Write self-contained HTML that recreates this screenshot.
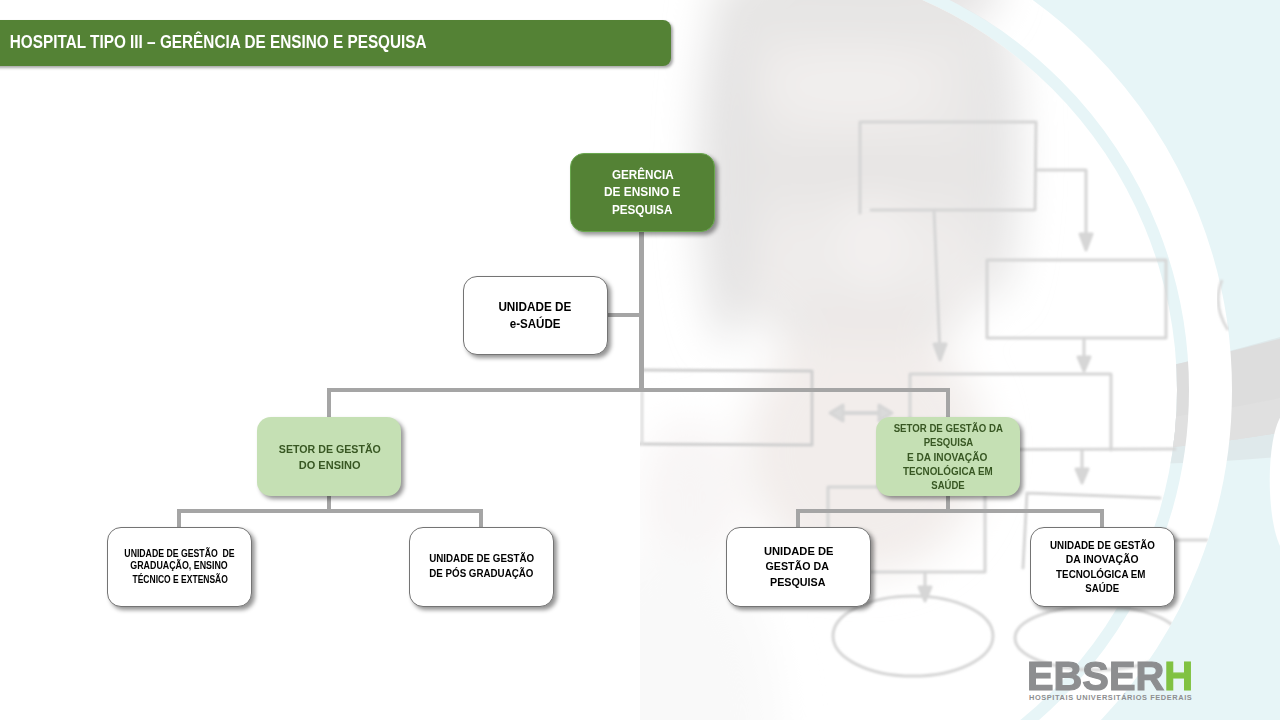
<!DOCTYPE html>
<html><head><meta charset="utf-8"><style>
html,body{margin:0;padding:0;}
body{width:1280px;height:720px;position:relative;overflow:hidden;background:#fff;font-family:"Liberation Sans",sans-serif;}
.t{position:absolute;white-space:pre;transform-origin:50% 50%;text-align:left;}
.box{position:absolute;box-sizing:border-box;border-radius:14px;}
.ln{position:absolute;background:#a5a5a5;}
</style></head><body>

<svg style="position:absolute;left:0;top:0" width="1280" height="720" viewBox="0 0 1280 720">
<defs>
<clipPath id="r481"><circle cx="751" cy="390" r="481"/></clipPath>
<clipPath id="photo"><circle cx="751" cy="390" r="426"/></clipPath>
<clipPath id="ring"><path clip-rule="evenodd" d="M270,390 A481,481 0 1,0 1232,390 A481,481 0 1,0 270,390 Z M313.5,390 A437.5,437.5 0 1,0 1188.5,390 A437.5,437.5 0 1,0 313.5,390 Z"/></clipPath>
<clipPath id="outside"><path clip-rule="evenodd" d="M640,0 H1280 V720 H640 Z M325,390 A426,426 0 1,0 1177,390 A426,426 0 1,0 325,390 Z"/></clipPath>
<clipPath id="right"><rect x="640" y="0" width="640" height="720"/></clipPath>
<filter id="b20" x="-50%" y="-50%" width="200%" height="200%"><feGaussianBlur stdDeviation="20"/></filter>
<filter id="b10" x="-50%" y="-50%" width="200%" height="200%"><feGaussianBlur stdDeviation="10"/></filter>
<filter id="b1"><feGaussianBlur stdDeviation="0.6"/></filter>
<filter id="b09" x="-10%" y="-10%" width="120%" height="120%"><feGaussianBlur stdDeviation="0.9"/></filter>
</defs>
<g clip-path="url(#right)">
  <rect x="640" y="0" width="640" height="720" fill="#e7f5f7"/>
  <g clip-path="url(#photo)">
    <rect x="640" y="0" width="640" height="720" fill="#ffffff"/>
    <g filter="url(#b20)">
      <ellipse cx="862" cy="140" rx="155" ry="238" fill="#ebe9e8"/>
      <ellipse cx="865" cy="450" rx="120" ry="125" fill="#f2edeb"/>
      <ellipse cx="728" cy="170" rx="30" ry="175" fill="#e4e3e3"/>
      <ellipse cx="995" cy="150" rx="25" ry="150" fill="#e6e5e5"/>
      <ellipse cx="860" cy="0" rx="150" ry="40" fill="#e6e5e4"/>
      <ellipse cx="862" cy="170" rx="135" ry="22" fill="#e6e4e3"/>
      <ellipse cx="850" cy="85" rx="90" ry="38" fill="#f1eeed"/>
      <ellipse cx="872" cy="245" rx="40" ry="50" fill="#f3f0ef"/>
      <ellipse cx="790" cy="265" rx="35" ry="45" fill="#efeceb"/>
      <ellipse cx="950" cy="265" rx="35" ry="45" fill="#efeceb"/>
      <ellipse cx="870" cy="322" rx="60" ry="18" fill="#ebe7e6"/>
      <ellipse cx="690" cy="500" rx="50" ry="80" fill="#f8f5f5"/>
      <ellipse cx="670" cy="730" rx="110" ry="190" fill="#f9f9f9"/>
    </g>
  </g>
  <!-- gray band -->
  <g clip-path="url(#photo)" style="display:none"></g>
  <g clip-path="url(#outside)">
  <path d="M1150,370 Q1215,356 1290,334 L1290,456 Q1215,463 1150,464 Z" fill="#dfe9eb"/>
  <path d="M1150,370 Q1215,356 1290,336 L1290,431 Q1215,444 1150,449 Z" fill="#dddddd"/>
  <path d="M1150,420 Q1215,412 1290,396 L1290,431 Q1215,444 1150,449 Z" fill="#e0e0e0"/>
  </g>
  <!-- redraw photo over band -->
  <!-- white ring -->
    <circle cx="751" cy="390" r="459.5" fill="none" stroke="#fff" stroke-width="43"/>
  <g clip-path="url(#ring)"><ellipse cx="945" cy="-15" rx="55" ry="45" fill="#e6e4e4" filter="url(#b20)"/></g>
  <path d="M1281,416 C1266,440 1266,520 1281,548 Z" fill="#fff" filter="url(#b1)"/>
  <!-- sketch lines -->
  <g fill="none" stroke="#d6d6d6" stroke-width="3" stroke-linecap="round" stroke-linejoin="round" filter="url(#b09)" clip-path="url(#r481)">
    <path d="M860,122 L1036,122 L1035,210 L871,210 M860,122 L860,213"/>
    <path d="M1036,170 L1086,170 L1086,245"/><path d="M1080,234 L1086,250 L1092,234 Z" fill="#d6d6d6"/>
    <path d="M934,210 L940,354"/><path d="M934,344 L940,360 L946,344 Z" fill="#d6d6d6"/>
    <path d="M987,260 L1166,260 L1166,338 L987,338 Z"/>
    <path d="M1084,338 L1084,366"/><path d="M1078,357 L1084,371 L1090,357 Z" fill="#d6d6d6"/>
    <path d="M630,370 L812,371 L812,445 L630,444" stroke="#cfcfcf"/><path d="M642,392 L642,444" stroke="#dedede"/>
    <path d="M834,413 L888,413" stroke-width="4"/><path d="M843,405 L830,413 L843,421 Z M879,405 L892,413 L879,421 Z" fill="#dadada"/>
    <path d="M910,374 L1111,374 L1111,450 M910,374 L910,450 L1175,449"/>
    <path d="M1082,450 L1082,477"/><path d="M1076,469 L1082,483 L1088,469 Z" fill="#d6d6d6"/>
    <path d="M828,487 L985,487 L985,572 L828,572 Z"/>
    <path d="M1027,493 L1160,498 M1027,493 L1023,568 M1173,540 L1207,540"/><path d="M1150,370 L1160,372" stroke="none"/>
    <path d="M925,572 L925,595"/><path d="M919,587 L925,601 L931,587 Z" fill="#d6d6d6"/>
    <ellipse cx="913" cy="636" rx="80" ry="40"/>
    <ellipse cx="1097" cy="638" rx="82" ry="32"/>
  </g>
  <path d="M1222,280 Q1212,305 1228,330" fill="none" stroke="#d8d8d8" stroke-width="2.8" filter="url(#b09)"/>
</g>
</svg>

<div style="position:absolute;left:-10px;top:20px;width:681px;height:46px;background:#548235;border-radius:0 8px 8px 0;box-shadow:2px 2px 3px rgba(0,0,0,0.35);"></div>
<div class="t" style="left:-22.84px;top:32.75px;font-size:17.73px;line-height:19.81px;width:484.48px;transform:scaleX(0.8647);color:#fff;font-weight:700;">HOSPITAL TIPO III – GERÊNCIA DE ENSINO E PESQUISA</div>
<div class="ln" style="left:639px;top:231px;width:5px;height:161px;"></div>
<div class="ln" style="left:607px;top:313px;width:34px;height:4px;"></div>
<div class="ln" style="left:327px;top:388px;width:623px;height:4px;"></div>
<div class="ln" style="left:327px;top:390px;width:4px;height:27px;"></div>
<div class="ln" style="left:946px;top:390px;width:4px;height:27px;"></div>
<div class="ln" style="left:327px;top:495px;width:4px;height:16px;"></div>
<div class="ln" style="left:177px;top:509px;width:306px;height:4px;"></div>
<div class="ln" style="left:177px;top:511px;width:4px;height:17px;"></div>
<div class="ln" style="left:479px;top:511px;width:4px;height:17px;"></div>
<div class="ln" style="left:946px;top:495px;width:4px;height:16px;"></div>
<div class="ln" style="left:796px;top:509px;width:308px;height:4px;"></div>
<div class="ln" style="left:796px;top:511px;width:4px;height:17px;"></div>
<div class="ln" style="left:1100px;top:511px;width:4px;height:17px;"></div>
<div class="box" style="left:570px;top:153px;width:145px;height:79px;background:#548235;border:1px solid #6aa84f;box-shadow:3px 3px 4px rgba(0,0,0,0.42);"></div>
<div class="box" style="left:463px;top:276px;width:145px;height:79px;background:#fff;border:1px solid #747474;box-shadow:3px 3px 4px rgba(0,0,0,0.42);"></div>
<div class="box" style="left:257px;top:417px;width:144px;height:79px;background:#c5e0b4;border:none;box-shadow:3px 3px 4px rgba(0,0,0,0.42);"></div>
<div class="box" style="left:876px;top:417px;width:144px;height:79px;background:#c5e0b4;border:none;box-shadow:3px 3px 4px rgba(0,0,0,0.42);"></div>
<div class="box" style="left:107px;top:527px;width:145px;height:80px;background:#fff;border:1px solid #747474;box-shadow:3px 3px 4px rgba(0,0,0,0.42);"></div>
<div class="box" style="left:409px;top:527px;width:145px;height:80px;background:#fff;border:1px solid #747474;box-shadow:3px 3px 4px rgba(0,0,0,0.42);"></div>
<div class="box" style="left:726px;top:527px;width:145px;height:80px;background:#fff;border:1px solid #747474;box-shadow:3px 3px 4px rgba(0,0,0,0.42);"></div>
<div class="box" style="left:1030px;top:527px;width:145px;height:80px;background:#fff;border:1px solid #747474;box-shadow:3px 3px 4px rgba(0,0,0,0.42);"></div>
<div class="t" style="left:608.59px;top:168.22px;font-size:12.79px;line-height:14.29px;width:69.51px;transform:scaleX(0.9139);color:#fff;font-weight:700;">GERÊNCIA</div>
<div class="t" style="left:600.53px;top:185.02px;font-size:12.79px;line-height:14.29px;width:84.45px;transform:scaleX(0.9279);color:#fff;font-weight:700;">DE ENSINO E</div>
<div class="t" style="left:608.70px;top:203.22px;font-size:12.79px;line-height:14.29px;width:68.10px;transform:scaleX(0.9152);color:#fff;font-weight:700;">PESQUISA</div>
<div class="t" style="left:495.20px;top:300.12px;font-size:12.79px;line-height:14.29px;width:81.59px;transform:scaleX(0.9172);color:#000;font-weight:700;">UNIDADE DE</div>
<div class="t" style="left:506.93px;top:317.02px;font-size:12.79px;line-height:14.29px;width:58.15px;transform:scaleX(0.9048);color:#000;font-weight:700;">e-SAÚDE</div>
<div class="t" style="left:274.22px;top:442.28px;font-size:11.63px;line-height:12.99px;width:113.56px;transform:scaleX(0.9143);color:#385723;font-weight:700;">SETOR DE GESTÃO</div>
<div class="t" style="left:296.87px;top:458.38px;font-size:11.63px;line-height:12.99px;width:67.25px;transform:scaleX(0.9471);color:#385723;font-weight:700;">DO ENSINO</div>
<div class="t" style="left:883.50px;top:422.04px;font-size:11.34px;line-height:12.66px;width:130.30px;transform:scaleX(0.8519);color:#385723;font-weight:700;">SETOR DE GESTÃO DA</div>
<div class="t" style="left:918.70px;top:436.04px;font-size:11.34px;line-height:12.66px;width:60.59px;transform:scaleX(0.8465);color:#385723;font-weight:700;">PESQUISA</div>
<div class="t" style="left:902.41px;top:450.54px;font-size:11.34px;line-height:12.66px;width:92.07px;transform:scaleX(0.8937);color:#385723;font-weight:700;">E DA INOVAÇÃO</div>
<div class="t" style="left:896.45px;top:464.84px;font-size:11.34px;line-height:12.66px;width:105.50px;transform:scaleX(0.8696);color:#385723;font-weight:700;">TECNOLÓGICA EM</div>
<div class="t" style="left:927.86px;top:479.04px;font-size:11.34px;line-height:12.66px;width:41.69px;transform:scaleX(0.8416);color:#385723;font-weight:700;">SAÚDE</div>
<div class="t" style="left:115.30px;top:547.79px;font-size:10.17px;line-height:11.36px;width:130.89px;transform:scaleX(0.8573);color:#000;font-weight:700;">UNIDADE DE GESTÃO  DE</div>
<div class="t" style="left:123.29px;top:560.39px;font-size:10.17px;line-height:11.36px;width:113.92px;transform:scaleX(0.8711);color:#000;font-weight:700;">GRADUAÇÃO, ENSINO</div>
<div class="t" style="left:123.15px;top:573.79px;font-size:10.17px;line-height:11.36px;width:116.20px;transform:scaleX(0.8363);color:#000;font-weight:700;">TÉCNICO E EXTENSÃO</div>
<div class="t" style="left:419.68px;top:552.41px;font-size:11.48px;line-height:12.83px;width:125.13px;transform:scaleX(0.8536);color:#000;font-weight:700;">UNIDADE DE GESTÃO</div>
<div class="t" style="left:420.40px;top:567.11px;font-size:11.48px;line-height:12.83px;width:124.49px;transform:scaleX(0.8515);color:#000;font-weight:700;">DE PÓS GRADUAÇÃO</div>
<div class="t" style="left:762.77px;top:544.61px;font-size:11.48px;line-height:12.83px;width:73.45px;transform:scaleX(0.9741);color:#000;font-weight:700;">UNIDADE DE</div>
<div class="t" style="left:762.87px;top:560.11px;font-size:11.48px;line-height:12.83px;width:70.26px;transform:scaleX(0.9288);color:#000;font-weight:700;">GESTÃO DA</div>
<div class="t" style="left:768.38px;top:576.21px;font-size:11.48px;line-height:12.83px;width:61.34px;transform:scaleX(0.9352);color:#000;font-weight:700;">PESQUISA</div>
<div class="t" style="left:1043.75px;top:538.73px;font-size:10.90px;line-height:12.18px;width:118.90px;transform:scaleX(0.8982);color:#000;font-weight:700;">UNIDADE DE GESTÃO</div>
<div class="t" style="left:1063.50px;top:553.43px;font-size:10.90px;line-height:12.18px;width:78.31px;transform:scaleX(0.9527);color:#000;font-weight:700;">DA INOVAÇÃO</div>
<div class="t" style="left:1051.29px;top:567.63px;font-size:10.90px;line-height:12.18px;width:101.52px;transform:scaleX(0.8993);color:#000;font-weight:700;">TECNOLÓGICA EM</div>
<div class="t" style="left:1082.82px;top:581.73px;font-size:10.90px;line-height:12.18px;width:40.16px;transform:scaleX(0.8857);color:#000;font-weight:700;">SAÚDE</div>
<div style="position:absolute;left:1026.5px;top:653px;font-size:41px;line-height:47px;font-weight:700;color:#8d8e90;white-space:nowrap;transform:scaleX(0.972);transform-origin:0 0;-webkit-text-stroke:1.2px #8d8e90;">EBSER<span style="color:#80c242;-webkit-text-stroke:1.2px #80c242;">H</span></div>
<div style="position:absolute;left:1029px;top:693px;font-size:7.4px;line-height:9px;font-weight:700;color:#8d8e90;white-space:nowrap;letter-spacing:0.6px;">HOSPITAIS UNIVERSITÁRIOS FEDERAIS</div>

</body></html>
